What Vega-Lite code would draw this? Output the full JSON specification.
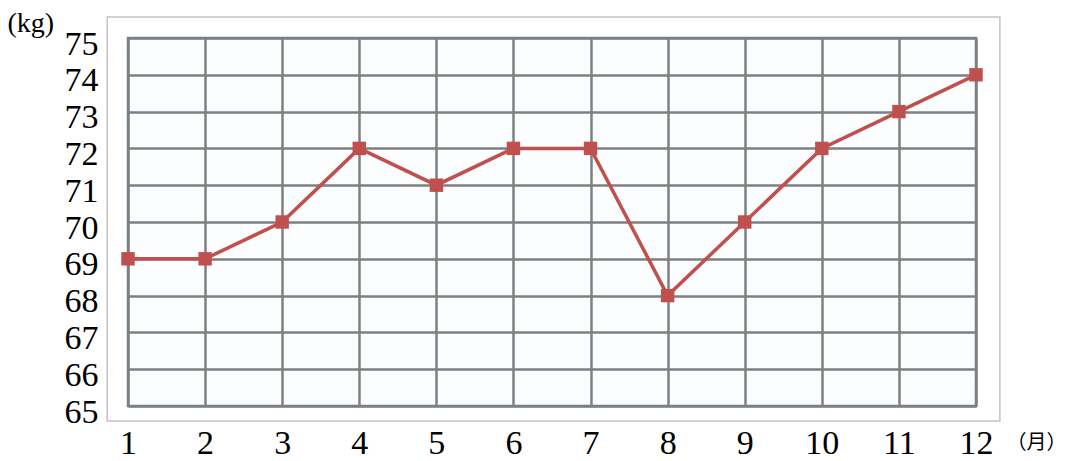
{
  "$schema": "https://vega.github.io/schema/vega-lite/v6.json",
  "width": 848,
  "height": 368,
  "autosize": {"type": "none"},
  "padding": {"left": 128, "top": 38, "right": 91, "bottom": 55},
  "background": "white",
  "config": {
    "view": {"stroke": "#6a87a3", "strokeWidth": 2.5, "fill": "#fbfdff"},
    "font": "Liberation Serif"
  },
  "data": {
    "values": [
      {"month": 1, "kg": 69},
      {"month": 2, "kg": 69},
      {"month": 3, "kg": 70},
      {"month": 4, "kg": 72},
      {"month": 5, "kg": 71},
      {"month": 6, "kg": 72},
      {"month": 7, "kg": 72},
      {"month": 8, "kg": 68},
      {"month": 9, "kg": 70},
      {"month": 10, "kg": 72},
      {"month": 11, "kg": 73},
      {"month": 12, "kg": 74}
    ]
  },
  "encoding": {
    "x": {
      "field": "month",
      "type": "quantitative",
      "scale": {"domain": [1, 12], "nice": false, "zero": false},
      "axis": {
        "values": [1, 2, 3, 4, 5, 6, 7, 8, 9, 10, 11, 12],
        "title": "（月）",
        "titleFont": "Noto Sans CJK JP",
        "titleFontSize": 20,
        "titleFontWeight": "normal",
        "titleColor": "#000",
        "titleX": 908,
        "titleY": 36,
        "titleAlign": "center",
        "titleBaseline": "middle",
        "labelFont": "Liberation Serif",
        "labelFontSize": 34,
        "labelColor": "#000",
        "labelPadding": 20,
        "labelFlush": false,
        "labelBaseline": "top",
        "ticks": false,
        "domain": false,
        "grid": true,
        "gridColor": "#7f7f7f",
        "gridWidth": 2.5,
        "gridOpacity": 1
      }
    },
    "y": {
      "field": "kg",
      "type": "quantitative",
      "scale": {"domain": [65, 75], "nice": false, "zero": false},
      "axis": {
        "values": [65, 66, 67, 68, 69, 70, 71, 72, 73, 74, 75],
        "title": "(kg)",
        "titleFont": "Liberation Serif",
        "titleFontSize": 28,
        "titleFontWeight": "normal",
        "titleColor": "#000",
        "titleAngle": 0,
        "titleX": -121,
        "titleY": -15,
        "titleAlign": "left",
        "titleBaseline": "middle",
        "labelFont": "Liberation Serif",
        "labelFontSize": 34,
        "labelColor": "#000",
        "labelPadding": 30,
        "labelFlush": false,
        "labelBaseline": "middle",
        "labelOffset": 6,
        "ticks": false,
        "domain": false,
        "grid": true,
        "gridColor": "#7f7f7f",
        "gridWidth": 2.5,
        "gridOpacity": 1
      }
    }
  },
  "layer": [
    {
      "data": {"values": [{"month": 0.73, "month_end": 12.31, "kg": 64.59, "kg_end": 75.57}]},
      "mark": {"type": "rect", "clip": false, "filled": false, "stroke": "#c4c4c4", "strokeWidth": 1.5},
      "encoding": {
        "x2": {"field": "month_end"},
        "y2": {"field": "kg_end"}
      }
    },
    {
      "mark": {"type": "line", "color": "#c0504d", "strokeWidth": 3.5},
      "encoding": {}
    },
    {
      "mark": {"type": "point", "shape": "square", "filled": true, "color": "#c0504d", "size": 180, "opacity": 1},
      "encoding": {}
    }
  ]
}
